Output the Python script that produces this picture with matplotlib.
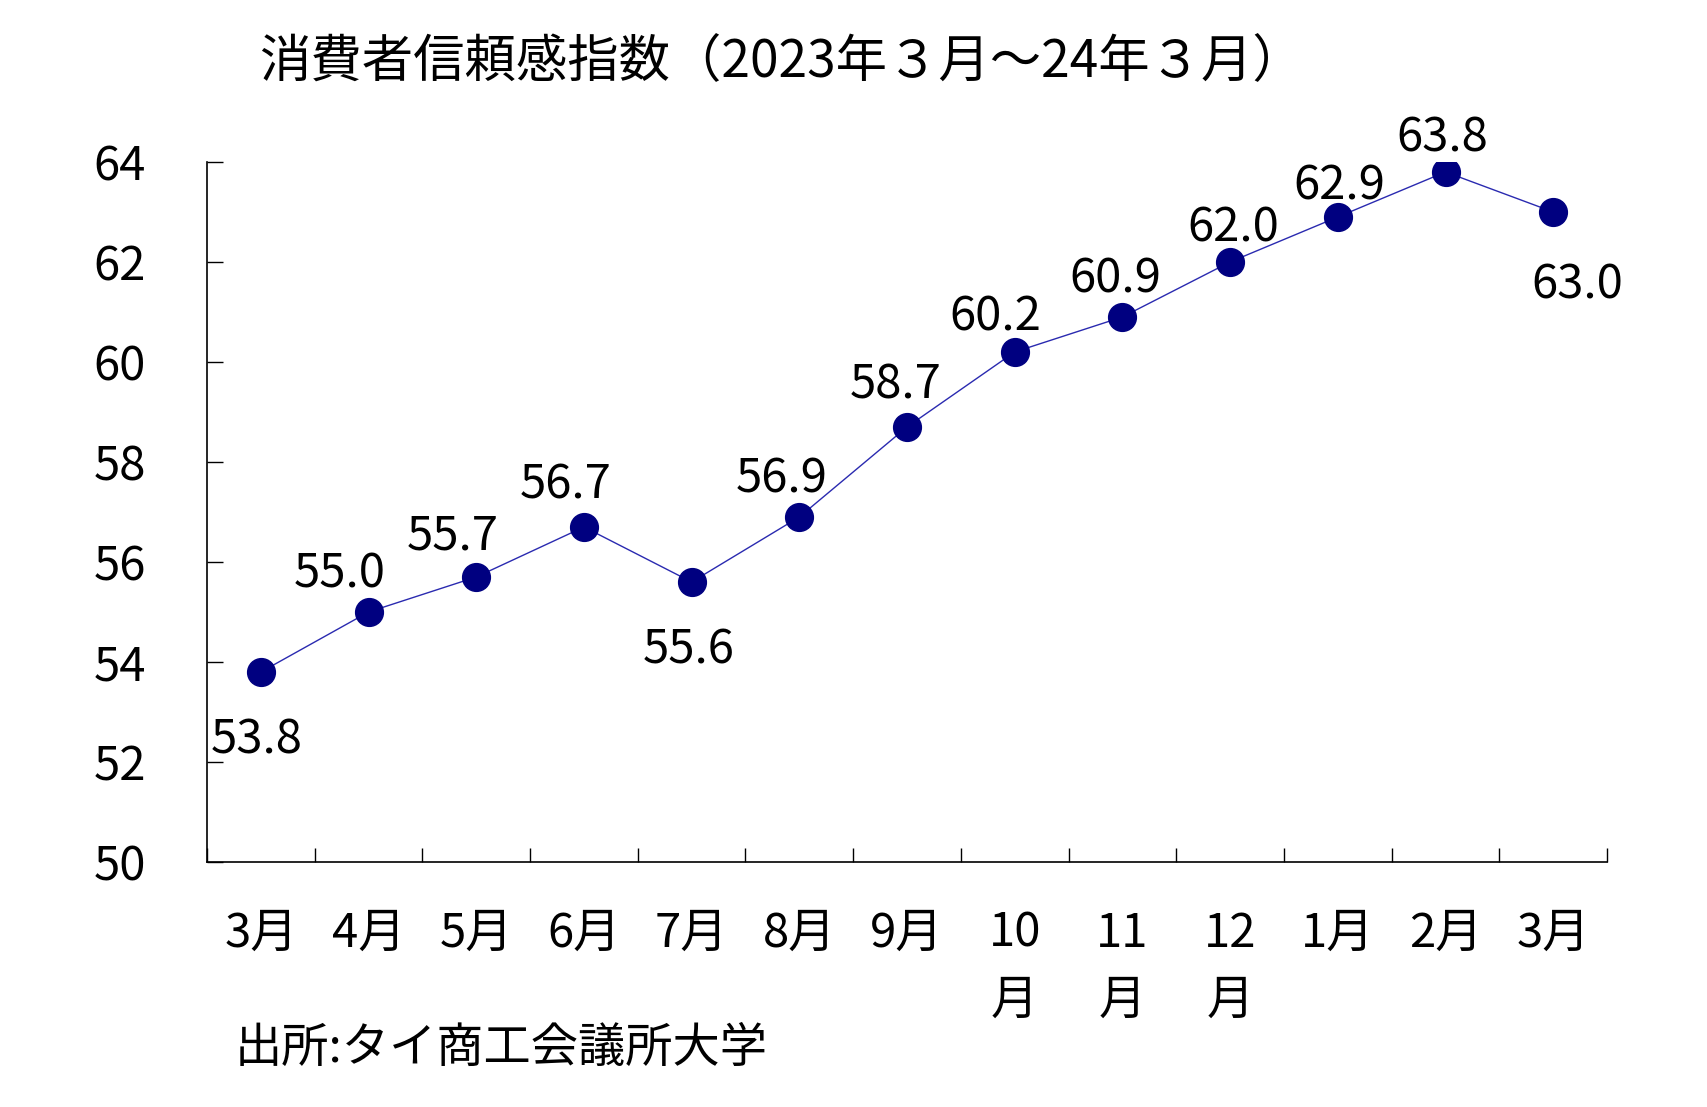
import matplotlib
matplotlib.use("Agg")
import matplotlib.pyplot as plt
import numpy as np

plt.rcParams['font.family'] = ['Noto Sans CJK JP', 'DejaVu Sans']

title = "消費者信頼感指数（2023年３月～24年３月）"
source = "出所:タイ商工会議所大学"
months = ["3月", "4月", "5月", "6月", "7月", "8月", "9月", "10\n月", "11\n月", "12\n月", "1月", "2月", "3月"]
values = [53.8, 55.0, 55.7, 56.7, 55.6, 56.9, 58.7, 60.2, 60.9, 62.0, 62.9, 63.8, 63.0]
yticks = [50, 52, 54, 56, 58, 60, 62, 64]

# label offsets (points) for data labels
label_offsets = [(-3, -49), (-21, 27), (-17, 29), (-13, 30), (-2, -49), (-13, 27), (-8, 30),
                 (-14, 25), (-5, 27), (2, 24), (1, 22), (-2, 24), (17, -53)]

fig = plt.figure(figsize=(17.08, 11.07), dpi=100)
ax = fig.add_axes([0.1212, 0.2213, 0.9409 - 0.1212, 0.8537 - 0.2213])

x = np.arange(len(values))
ax.plot(x, values, color='#2a2ab0', lw=1.0, marker='o', markersize=20,
        markerfacecolor='#000080', markeredgecolor='#000080', zorder=3)

for xi, v, (dx, dy) in zip(x, values, label_offsets):
    ax.annotate(f"{v:.1f}", (xi, v), xytext=(dx, dy), textcoords='offset points',
                ha='center', va='center', fontsize=34, color='black')

ax.set_xlim(-0.5, len(values) - 0.5)
ax.set_ylim(50, 64)
ax.set_yticks(yticks)
ax.set_yticklabels([str(t) for t in yticks], fontsize=34)
ax.set_xticks(x)
ax.set_xticklabels(months, fontsize=34, linespacing=1.5, va='top')
ax.set_xticks(np.arange(-0.5, len(values), 1.0), minor=True)

ax.tick_params(axis='x', which='major', length=0, pad=34)
ax.tick_params(axis='x', which='minor', direction='in', length=10, width=1.0)
ax.tick_params(axis='y', which='major', direction='in', length=11.5, width=1.0, pad=44)

for s in ['top', 'right']:
    ax.spines[s].set_visible(False)
for s in ['left', 'bottom']:
    ax.spines[s].set_linewidth(1.2)
    ax.spines[s].set_color('black')

fig.text(259 / 1708, 1 - 62 / 1107, title, fontsize=37, ha='left', va='center')
fig.text(235 / 1708, 1 - 1049 / 1107, source, fontsize=34, ha='left', va='center')

fig.savefig("out.png", dpi=100, facecolor='white')
